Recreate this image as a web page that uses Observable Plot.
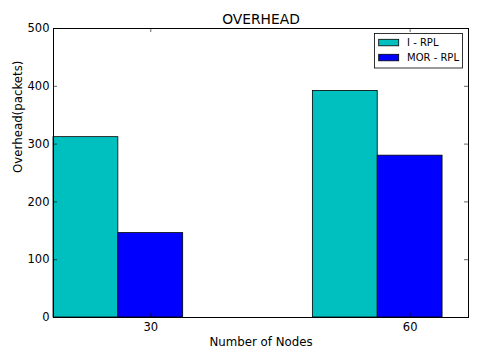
<!DOCTYPE html>
<html>
<head>
<meta charset="utf-8">
<script src="https://cdn.jsdelivr.net/npm/d3@7"></script>
<script src="https://cdn.jsdelivr.net/npm/@observablehq/plot@0.6"></script>
<style>
  html, body { margin: 0; padding: 0; background: white; }
</style>
</head>
<body>
<div id="chart"></div>
<script>
const categories = ["30", "60"];
const seriesNames = ["I - RPL", "MOR - RPL"];
const iRpl = [312, 392];
const morRpl = [146, 280];
const yTicks = [0, 100, 200, 300, 400, 500];
const colors = ["#00bfbf", "#0000ff"];

const barW = 0.25;
const series = [iRpl, morRpl];
const bars = [];
categories.forEach((c, i) => {
  series.forEach((vals, s) => {
    bars.push({cat: c, series: seriesNames[s], x1: i + s * barW, x2: i + (s + 1) * barW, value: vals[i], color: colors[s]});
  });
});
const xTickPos = categories.map((c, i) => ({pos: i + 1.5 * barW, label: c}));

const W = 480, H = 360, mL = 53, mR = 12, mT = 28, mB = 43;
const fw = W - mL - mR, fh = H - mT - mB, tl = 4;

const svg = Plot.plot({
  width: W, height: H,
  marginLeft: mL, marginRight: mR, marginTop: mT, marginBottom: mB,
  style: {fontFamily: "DejaVu Sans", background: "white", color: "black"},
  x: {domain: [0, 1.6], axis: null},
  y: {domain: [0, 500], axis: null},
  marks: [
    Plot.rect(bars, {x1: "x1", x2: "x2", y1: 0, y2: "value", fill: "color", stroke: "black", strokeWidth: 0.8}),
    Plot.tickY(yTicks, {y: d => d, insetRight: fw - tl, stroke: "black", strokeWidth: 0.6}),
    Plot.tickY(yTicks, {y: d => d, insetLeft: fw - tl, stroke: "black", strokeWidth: 0.6}),
    Plot.tickX(xTickPos, {x: "pos", insetTop: fh - tl, stroke: "black", strokeWidth: 0.6}),
    Plot.tickX(xTickPos, {x: "pos", insetBottom: fh - tl, stroke: "black", strokeWidth: 0.6}),
    Plot.frame({stroke: "black", strokeWidth: 1}),
    Plot.text(yTicks, {y: d => d, text: d => String(d), frameAnchor: "left", dx: -4, textAnchor: "end", lineAnchor: "middle", fontSize: 11.5, fill: "black"}),
    Plot.text(xTickPos, {x: "pos", text: "label", frameAnchor: "bottom", dy: 9.7, lineAnchor: "middle", fontSize: 11.5, fill: "black"}),
    Plot.text(["Number of Nodes"], {frameAnchor: "bottom", dy: 24.7, lineAnchor: "middle", fontSize: 11.8, fill: "black"}),
    Plot.text(["Overhead(packets)"], {frameAnchor: "left", dx: -35.4, rotate: -90, lineAnchor: "middle", fontSize: 11.8, fill: "black"}),
    Plot.text(["OVERHEAD"], {frameAnchor: "top", dy: -9, lineAnchor: "middle", fontSize: 13.8, fill: "black"})
  ]
});

// Legend inside the frame (upper right)
const lg = d3.select(svg).append("g").attr("font-family", "DejaVu Sans").attr("font-size", 10).attr("text-anchor", "start");
lg.append("rect").attr("x", 374.5).attr("y", 33.5).attr("width", 88).attr("height", 34.5)
  .attr("fill", "white").attr("stroke", "black").attr("stroke-width", 0.8);
seriesNames.forEach((name, i) => {
  const cy = 42.5 + i * 15;
  lg.append("rect").attr("x", 378.7).attr("y", cy - 3.2).attr("width", 20).attr("height", 6.5)
    .attr("fill", colors[i]).attr("stroke", "black").attr("stroke-width", 0.8);
  lg.append("text").attr("x", 407).attr("y", cy).attr("dy", "0.35em").attr("fill", "black")
    .attr("text-anchor", "start").text(name);
});

document.getElementById("chart").appendChild(svg);
</script>
</body>
</html>
